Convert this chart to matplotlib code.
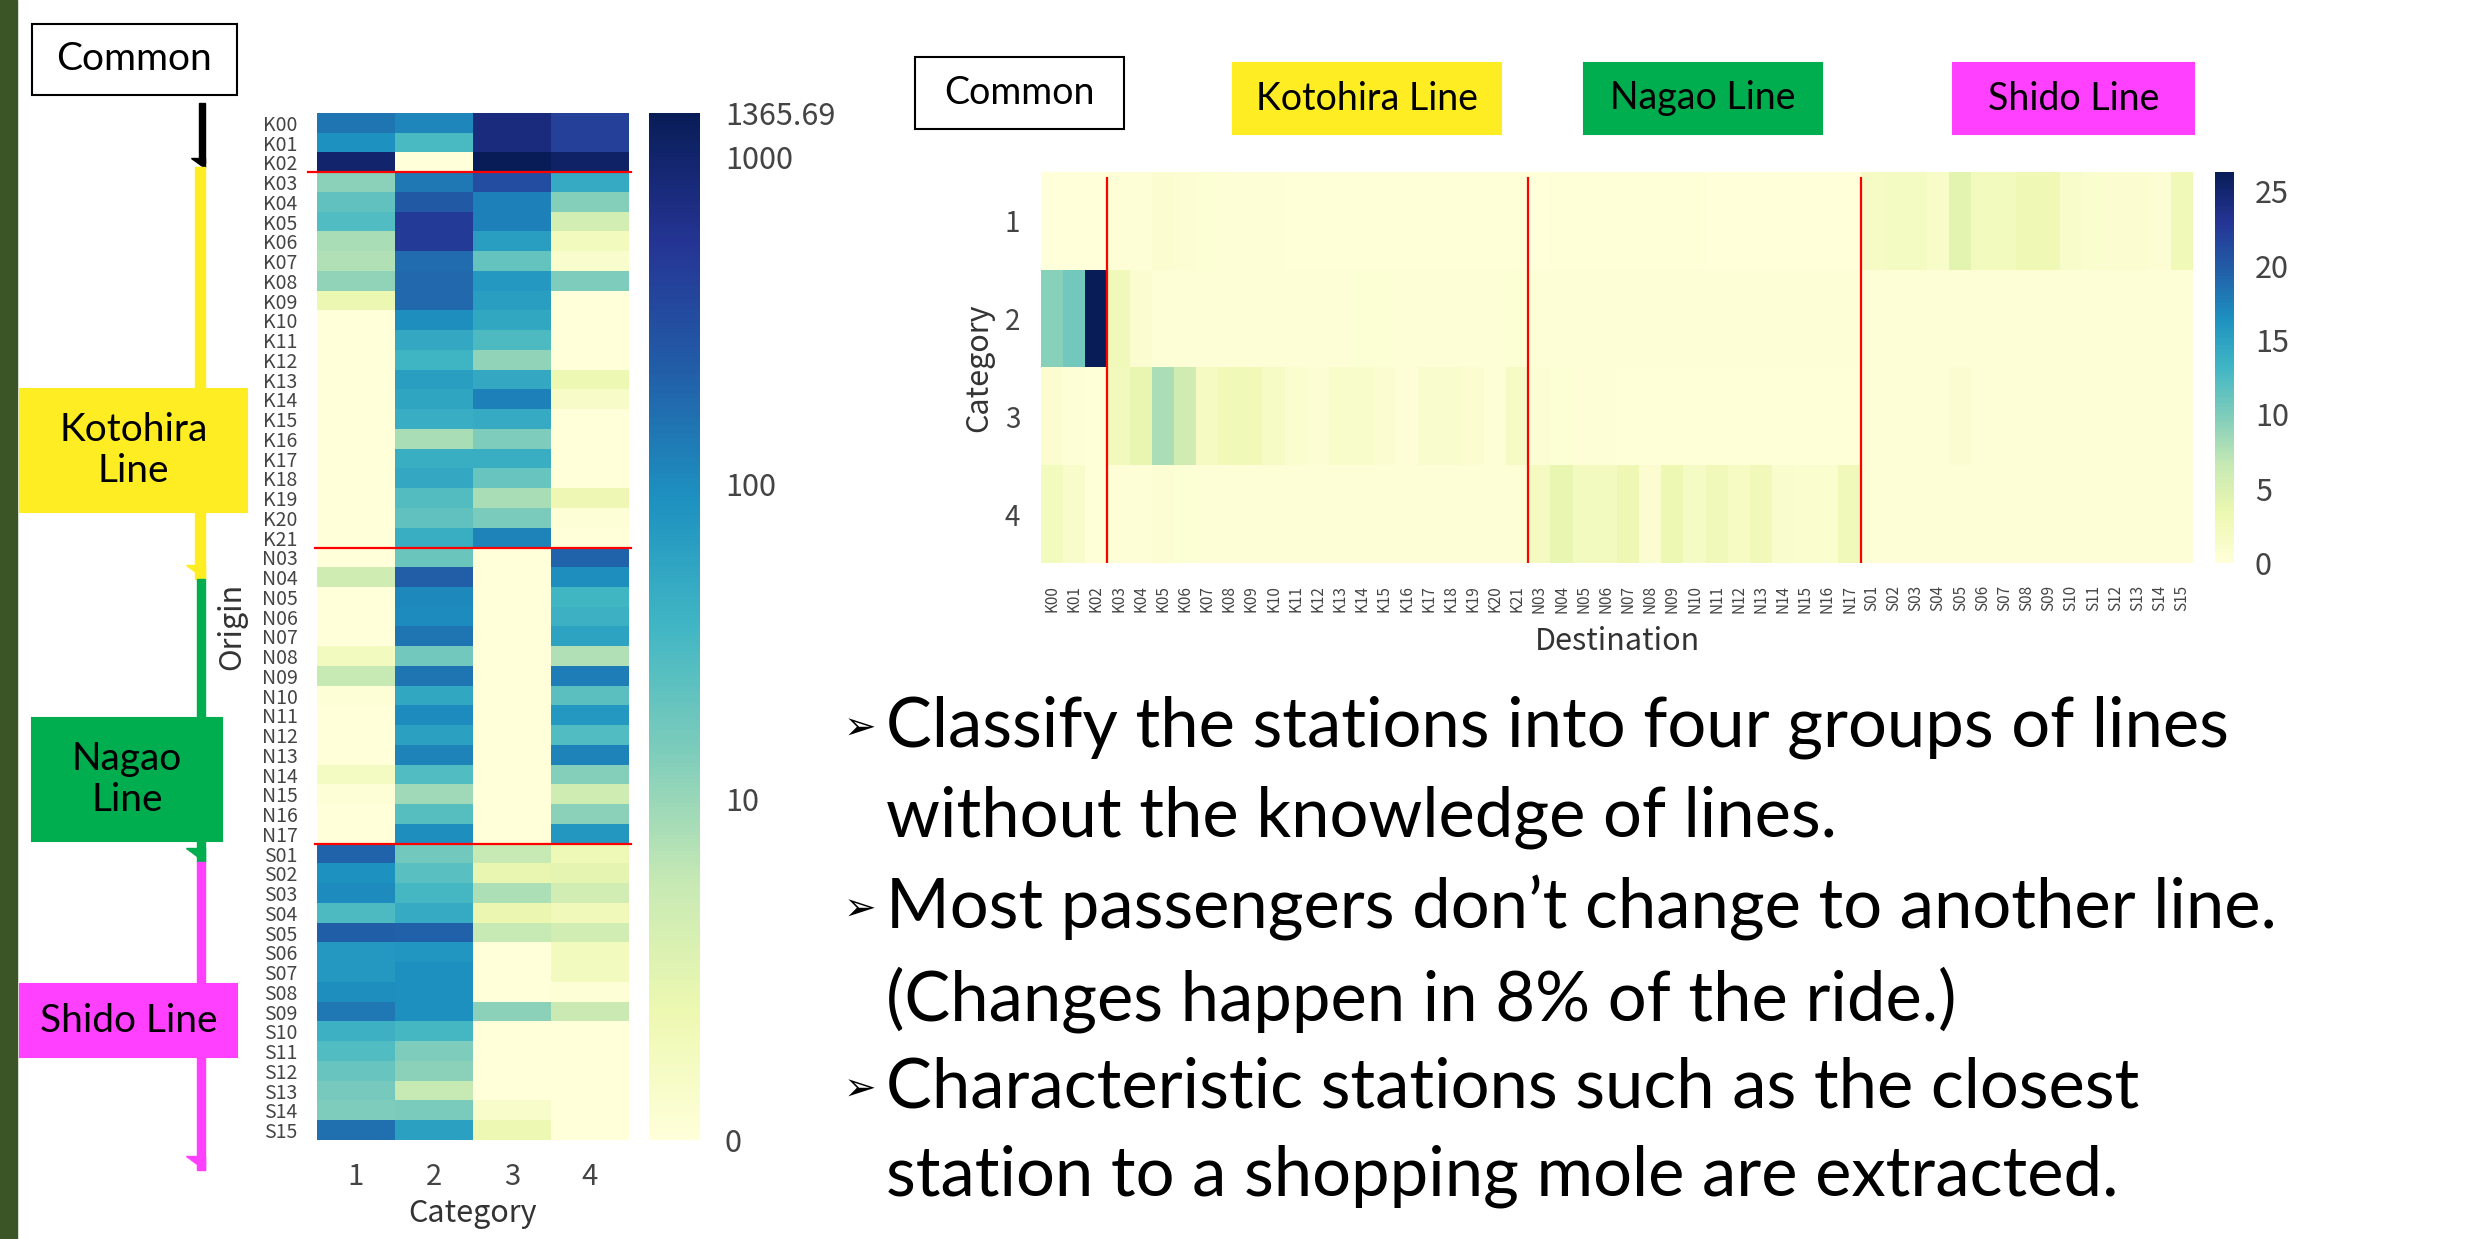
import numpy as np
import matplotlib
matplotlib.use('Agg')
from matplotlib import pyplot as plt
from matplotlib import colors
from matplotlib.patches import Rectangle, Polygon

W, H = 2472, 1239

k_stations = ['K%02d' % i for i in range(0, 22)]
n_stations = ['N%02d' % i for i in range(3, 18)]
s_stations = ['S%02d' % i for i in range(1, 16)]
stations = k_stations + n_stations + s_stations
categories = ['1', '2', '3', '4']

# origin station x category (left map), K00..K21, N03..N17, S01..S15
origin_cat1 = [150, 90, 1000, 12, 22, 28, 8, 7, 11, 1.5, 0, 0, 0, 0, 0, 0, 0, 0, 0, 0, 0, 0,
               0, 4, 0, 0, 0, 0.8, 5, 0.1, 0, 0, 0, 0.7, 0.1, 0, 0,
               200, 90, 100, 30, 220, 75, 75, 95, 140, 40, 28, 20, 16, 14, 160]
origin_cat2 = [110, 32, 0, 140, 250, 480, 480, 170, 185, 185, 95, 50, 38, 65, 55, 45, 8, 43, 50, 27, 22, 43,
               19, 230, 105, 100, 150, 17, 150, 52, 100, 62, 115, 28, 9, 26, 95,
               17, 25, 33, 48, 210, 80, 92, 92, 92, 33, 14, 12, 5, 15, 62]
origin_cat3 = [760, 760, 1365.69, 320, 120, 120, 65, 21, 75, 65, 52, 30, 11, 50, 120, 48, 14, 43, 20, 8, 15, 115,
               0, 0, 0, 0, 0, 0, 0, 0, 0, 0, 0, 0, 0, 0, 0,
               5, 1.8, 7.5, 1.6, 5, 0, 0, 0, 12, 0, 0, 0, 0, 0.4, 1.4]
origin_cat4 = [420, 420, 1100, 48, 13, 3.5, 0.9, 0.3, 14, 0, 0, 0, 0, 1.4, 0.5, 0, 0, 0, 0, 1.3, 0.1, 0,
               200, 95, 35, 40, 58, 7, 130, 24, 75, 28, 115, 13, 4, 12, 78,
               1.2, 2, 3.8, 1, 3.8, 0.9, 0.8, 0.1, 4.5, 0, 0, 0, 0, 0, 0]

# category x destination station (right map)
dest_cat1 = [0.1, 0.1, 0.1, 0.3, 0.4, 0.8, 0.6, 0.5, 0.4, 0.3, 0.3, 0.2, 0.2, 0.2, 0.2, 0.2, 0.2, 0.2, 0.2, 0.2, 0.2, 0.2,
             0.1, 0.2, 0.2, 0.2, 0.2, 0.2, 0.2, 0.2, 0.1, 0.1, 0.1, 0.1, 0.1, 0.1, 0.1,
             1.6, 1.9, 1.9, 1.3, 4.2, 2.2, 2.2, 2.9, 2.9, 1.2, 0.9, 0.8, 0.8, 0.6, 2.7]
dest_cat2 = [9.5, 10.5, 26.3, 2.5, 0.7, 0.3, 0.3, 0.3, 0.3, 0.3, 0.4, 0.4, 0.3, 0.3, 0.5, 0.5, 0.4, 0.3, 0.3, 0.3, 0.3, 0.5,
             0.3, 0.3, 0.3, 0.3, 0.3, 0.3, 0.3, 0.3, 0.3, 0.3, 0.3, 0.3, 0.3, 0.3, 0.3,
             0.3, 0.3, 0.3, 0.3, 0.3, 0.3, 0.3, 0.3, 0.3, 0.3, 0.3, 0.3, 0.4, 0.3, 0.3]
dest_cat3 = [0.8, 0.3, 0.2, 2.4, 3.8, 7.9, 5.8, 2.0, 2.7, 2.7, 1.6, 0.9, 0.6, 1.2, 1.2, 0.8, 0.3, 1.1, 1.0, 0.7, 0.4, 1.7,
             0.6, 0.5, 0.4, 0.3, 0.2, 0.2, 0.2, 0.2, 0.2, 0.2, 0.2, 0.2, 0.2, 0.2, 0.2,
             0.3, 0.3, 0.3, 0.4, 0.8, 0.4, 0.3, 0.3, 0.3, 0.3, 0.3, 0.3, 0.3, 0.3, 0.3]
dest_cat4 = [2.2, 1.2, 0.2, 0.3, 0.3, 0.6, 0.5, 0.3, 0.3, 0.3, 0.3, 0.3, 0.3, 0.3, 0.3, 0.3, 0.3, 0.3, 0.3, 0.3, 0.3, 0.3,
             2.0, 3.8, 2.1, 2.1, 3.0, 0.7, 3.2, 1.7, 2.5, 1.8, 2.6, 1.1, 0.9, 0.9, 2.5,
             0.3, 0.3, 0.3, 0.3, 0.3, 0.3, 0.4, 0.3, 0.3, 0.3, 0.3, 0.3, 0.3, 0.3, 0.3]

origin_ticks = [0, 10, 100, 1000, 1365.69]
origin_ticklabels = ['0', '10', '100', '1000', '1365.69']

line_names = ['Common', 'Kotohira Line', 'Nagao Line', 'Shido Line']
line_colors = ['white', '#ffed24', '#00ad4f', '#ff40ff']

bullets = [
    ['Classify the stations into four groups of lines',
     'without the knowledge of lines.'],
    ['Most passengers don\u2019t change to another line.',
     '(Changes happen in 8% of the ride.)'],
    ['Characteristic stations such as the closest',
     'station to a shopping mole are extracted.'],
]

JP = 'Noto Sans CJK JP'
SLIDE = 'Lato'
LABEL_C = '#333333'
TICK_C = '#444444'


def px_rect(x0, y0, x1, y1):
    return [x0 / W, 1 - y1 / H, (x1 - x0) / W, (y1 - y0) / H]


fig = plt.figure(figsize=(W / 100, H / 100), dpi=100)
fig.patch.set_facecolor('white')

# boundaries between lines (first station of each new line)
bounds = [stations.index('K03'), stations.index('N03'), stations.index('S01')]

# ---- left heatmap: origin x category
origin = np.array([origin_cat1, origin_cat2, origin_cat3, origin_cat4]).T
norm_l = colors.FuncNorm((lambda x: np.log10(1 + x), lambda y: 10 ** y - 1),
                         vmin=0, vmax=origin.max())
ax1 = fig.add_axes(px_rect(317, 113, 629, 1140))
im1 = ax1.imshow(origin, cmap='YlGnBu', norm=norm_l, aspect='auto', interpolation='nearest')
ax1.set_xticks(range(len(categories)), categories, fontsize=21, color=TICK_C, family=JP)
ax1.set_yticks(range(len(stations)), stations, fontsize=14, color=TICK_C, family=JP)
ax1.tick_params(length=0)
ax1.tick_params(axis='x', pad=16)
ax1.tick_params(axis='y', pad=14)
for s in ax1.spines.values():
    s.set_visible(False)
ax1.set_xlabel('Category', fontsize=22, color=LABEL_C, family=JP)
ax1.xaxis.set_label_coords(0.5, -0.056)
ax1.set_ylabel('Origin', fontsize=22, color=LABEL_C, family=JP)
ax1.yaxis.set_label_coords(-0.225, 0.5)
for i, b in enumerate(bounds):
    x0 = -0.62 if i == 0 else -0.52
    ax1.plot([x0, 3.52], [b - 0.5, b - 0.5], color='red', lw=1.6, clip_on=False)
ax1.set_xlim(-0.5, len(categories) - 0.5)
ax1.set_ylim(len(stations) - 0.5, -0.5)

cax1 = fig.add_axes(px_rect(649, 113, 700, 1140))
cb1 = fig.colorbar(im1, cax=cax1)
cb1.set_ticks(origin_ticks)
cb1.set_ticklabels(origin_ticklabels)
cb1.outline.set_visible(False)
cax1.minorticks_off()
cax1.tick_params(length=0, pad=18, labelsize=22, labelcolor=TICK_C)
for t in cax1.get_yticklabels():
    t.set_family(JP)

# ---- right heatmap: category x destination
dest = np.array([dest_cat1, dest_cat2, dest_cat3, dest_cat4])
ax2 = fig.add_axes(px_rect(1041, 172, 2193, 563))
im2 = ax2.imshow(dest, cmap='YlGnBu', vmin=0, vmax=dest.max(), aspect='auto', interpolation='nearest')
ax2.set_xticks(range(len(stations)), stations, rotation=90, fontsize=11, color=TICK_C, family=JP)
ax2.set_yticks(range(len(categories)), categories, fontsize=20, color=TICK_C, family=JP)
ax2.tick_params(length=0)
ax2.tick_params(axis='x', pad=16)
ax2.tick_params(axis='y', pad=15)
for s in ax2.spines.values():
    s.set_visible(False)
ax2.set_xlabel('Destination', fontsize=22, color=LABEL_C, family=JP)
ax2.xaxis.set_label_coords(0.5, -0.16)
ax2.set_ylabel('Category', fontsize=22, color=LABEL_C, family=JP)
ax2.yaxis.set_label_coords(-0.041, 0.5)
for b in bounds:
    ax2.axvline(b - 0.5, ymin=0, ymax=0.985, color='red', lw=1.6)
ax2.set_xlim(-0.5, len(stations) - 0.5)

cax2 = fig.add_axes(px_rect(2215, 172, 2234, 563))
cb2 = fig.colorbar(im2, cax=cax2)
cb2.set_ticks([0, 5, 10, 15, 20, 25])
cb2.outline.set_visible(False)
cax2.tick_params(length=0, pad=15, labelsize=22, labelcolor=TICK_C)
for t in cax2.get_yticklabels():
    t.set_family(JP)

# ---- slide decorations in pixel coordinates
ov = fig.add_axes([0, 0, 1, 1])
ov.set_xlim(0, W)
ov.set_ylim(H, 0)
ov.axis('off')

ov.add_patch(Rectangle((0, 0), 17, H, color='#3c5526'))

# line diagram on the left
ov.add_patch(Rectangle((199, 103), 6, 60, color='black'))
ov.add_patch(Polygon([(191, 158), (205, 158), (205, 168)], color='black'))
seg = [(167, 579, 195), (579, 862, 197), (862, 1170, 197)]
for (y0, y1, x0), c in zip(seg, line_colors[1:]):
    ov.add_patch(Rectangle((x0, y0), 205 - x0, y1 - y0, color=c))
    ov.add_patch(Polygon([(186, y1 - 14), (205, y1 - 14), (205, y1)], color=c))

left_boxes = [(32, 24, 205, 71, 'Common'),
              (20, 389, 227, 123, 'Kotohira\nLine'),
              (32, 718, 190, 123, 'Nagao\nLine'),
              (20, 984, 217, 73, 'Shido Line')]
for (x, y, w, h, txt), c in zip(left_boxes, line_colors):
    ov.add_patch(Rectangle((x, y), w, h, facecolor=c, edgecolor='black' if c == 'white' else c, lw=1.5))
    ov.text(x + w / 2, y + h / 2, txt, ha='center', va='center', fontsize=28,
            family=SLIDE, linespacing=1.2)

top_boxes = [(915, 57, 209, 72), (1233, 63, 268, 71), (1584, 63, 238, 71), (1953, 63, 241, 71)]
for (x, y, w, h), c, name in zip(top_boxes, line_colors, line_names):
    ov.add_patch(Rectangle((x, y), w, h, facecolor=c, edgecolor='black' if c == 'white' else c, lw=1.5))
    ov.text(x + w / 2, y + h / 2, name, ha='center', va='center', fontsize=27, family=SLIDE)

# bullet text
line_y = [727, 817, 908, 1000, 1088, 1176]
k = 0
for item in bullets:
    ov.text(860, line_y[k] + 2, '\u27a2', ha='center', va='center', fontsize=28,
            family='DejaVu Sans')
    for ln in item:
        ov.text(886, line_y[k], ln, ha='left', va='center', fontsize=49.5, family=SLIDE)
        k += 1

fig.savefig('out.png', dpi=100)
